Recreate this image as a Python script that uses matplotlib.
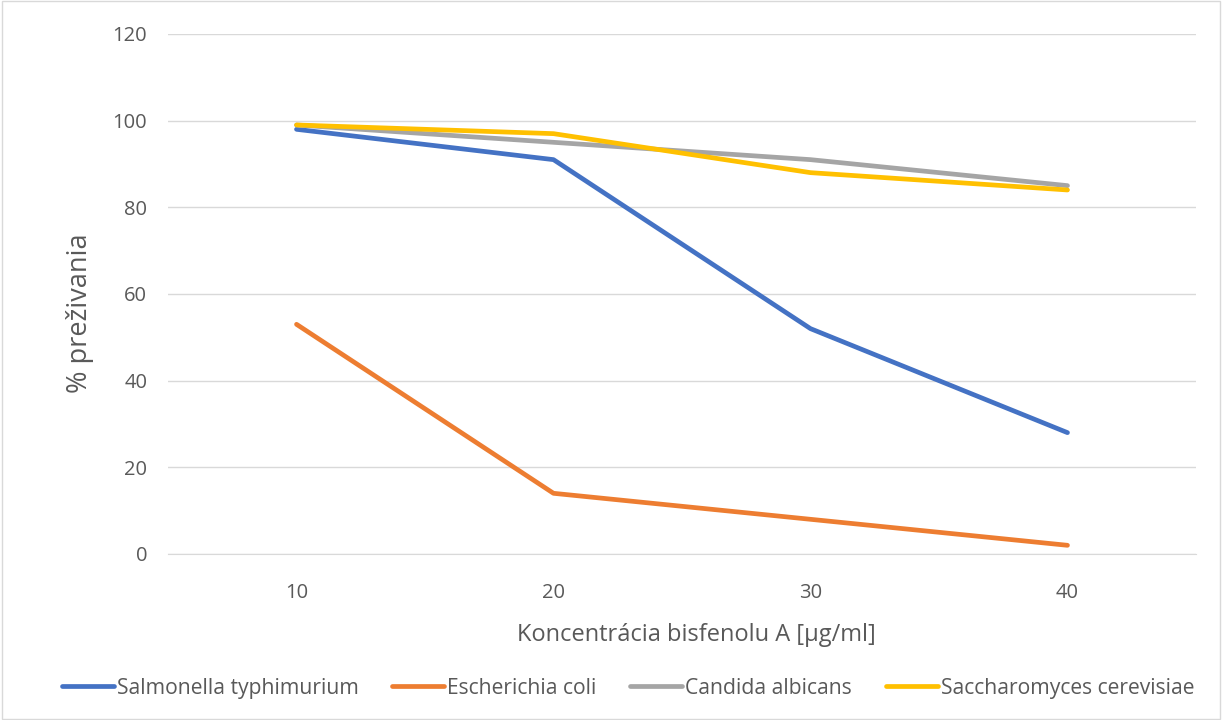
import matplotlib
matplotlib.use("Agg")
import matplotlib.pyplot as plt
from matplotlib.patches import Rectangle

categories = ["10", "20", "30", "40"]
series_names = ["Salmonella typhimurium", "Escherichia coli", "Candida albicans", "Saccharomyces cerevisiae"]
salmonella = [98, 91, 52, 28]
ecoli = [53, 14, 8, 2]
candida = [99, 95, 91, 85]
saccharomyces = [99, 97, 88, 84]
colors = ["#4472C4", "#ED7D31", "#A5A5A5", "#FFC000"]

plt.rcParams['font.family'] = ['Open Sans', 'DejaVu Sans']

fig = plt.figure(figsize=(12.22, 7.2), dpi=100)
ax = fig.add_axes([0.1375, 0.2306, 0.8412, 0.7222])

x = list(range(len(categories)))
for vals, name, c in zip([salmonella, ecoli, candida, saccharomyces], series_names, colors):
    ax.plot(x, vals, color=c, lw=3.4, label=name, solid_capstyle='round', solid_joinstyle='round')

ax.set_xlim(-0.5, len(categories) - 0.5)
ax.set_ylim(0, 120)
ax.set_yticks(range(0, 121, 20))
ax.set_xticks(x)
ax.set_xticklabels(categories)
ax.grid(axis='y', color='#D9D9D9', lw=1)
ax.set_axisbelow(True)
for s in ['top', 'right', 'left']:
    ax.spines[s].set_visible(False)
ax.spines['bottom'].set_color('#D9D9D9')
ax.tick_params(axis='both', length=0, colors='#595959', labelsize=14.5)
ax.tick_params(axis='y', pad=15)
ax.tick_params(axis='x', pad=21)
ax.set_ylabel("% preživania", fontsize=19.5, color='#595959', va='center')
ax.yaxis.set_label_coords(-0.0856, 0.4635)
ax.set_xlabel("Koncentrácia bisfenolu A [µg/ml]", fontsize=17, color='#595959', va='center')
ax.xaxis.set_label_coords(0.5136, -0.1558)

leg = fig.legend(loc='center', bbox_to_anchor=(0.514, 0.044), ncol=4, frameon=False,
                 fontsize=15.2, handlelength=2.45, handletextpad=0.15, columnspacing=1.6)
for t in leg.get_texts():
    t.set_color('#595959')

fig.patches.append(Rectangle((0.002, 0.002), 0.996, 0.996, transform=fig.transFigure,
                             fill=False, edgecolor='#D9D9D9', lw=1))

fig.savefig("out.png", dpi=100)
